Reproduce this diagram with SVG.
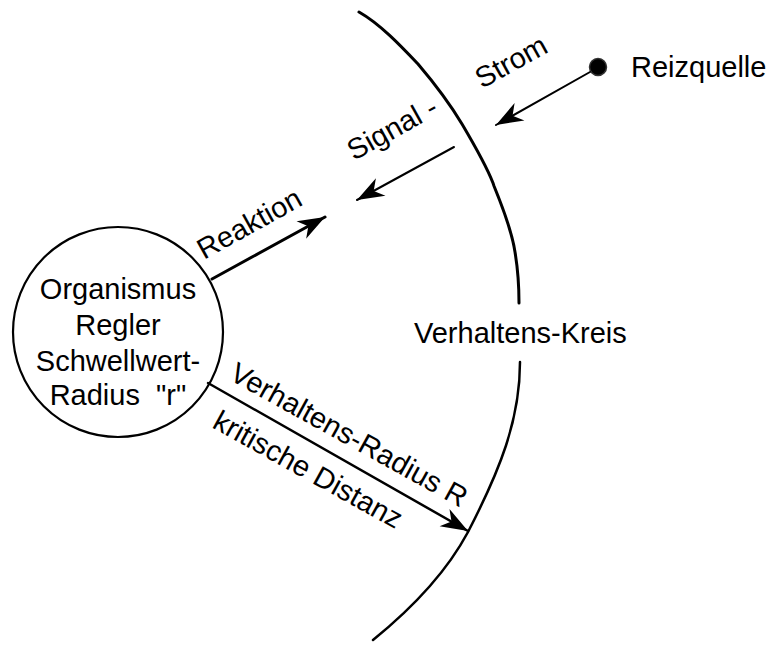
<svg xmlns="http://www.w3.org/2000/svg" width="769" height="653" viewBox="0 0 769 653">
  <style>
    .lbl { font-family: "Liberation Sans", Arial, sans-serif; font-size: 29px; fill: #000; }
    .mid { text-anchor: middle; }
    .edge { fill: none; stroke: #000; stroke-linecap: round; }
  </style>
  <defs>
    <marker id="head" markerUnits="userSpaceOnUse" markerWidth="32" markerHeight="26" viewBox="-30 -12 32 24" refX="0" refY="0" orient="auto">
      <path d="M0,0 L-27,-10 L-19,0 L-27,10 Z" fill="#000"/>
    </marker>
  </defs>

  <rect width="769" height="653" fill="#fff"/>

  <!-- boundary of the behaviour circle, broken where its label sits -->
  <g id="verhaltens-kreis">
    <path class="edge" stroke-width="3" d="M359,12 C380,24 400,45 418,64 C435,84 450,104 462,124 C475,146 486,165 493,183 L494,186 C503,208 512,232 515,252 C518,270 519,288 519,303"/>
    <path class="edge" stroke-width="2.5" d="M520,362 C520,420 500,470 468,532 C445,575 410,610 373,640"/>
    <text class="lbl" x="414" y="343">Verhaltens-Kreis</text>
  </g>

  <!-- organism node -->
  <g id="organismus">
    <circle cx="118" cy="332" r="105" fill="#fff" stroke="#000" stroke-width="2.2"/>
    <text class="lbl mid" x="118" y="299">Organismus</text>
    <text class="lbl mid" x="118" y="335">Regler</text>
    <text class="lbl mid" x="118" y="371">Schwellwert-</text>
    <text class="lbl mid" x="118" y="405" xml:space="preserve">Radius  "r"</text>
  </g>

  <!-- stimulus source -->
  <g id="reizquelle">
    <circle cx="598" cy="67" r="8.5" fill="#000" stroke="#333" stroke-width="1.5"/>
    <text class="lbl" x="631" y="77">Reizquelle</text>
  </g>

  <!-- connectors -->
  <g id="connectors">
    <line class="edge" stroke-width="2" x1="590" y1="72" x2="496" y2="125" marker-end="url(#head)"/>
    <line class="edge" stroke-width="2" x1="454" y1="147" x2="357" y2="200" marker-end="url(#head)"/>
    <line class="edge" stroke-width="3" x1="212" y1="279" x2="325" y2="217" marker-end="url(#head)"/>
    <line class="edge" stroke-width="2.5" x1="208" y1="383" x2="468" y2="531" marker-end="url(#head)"/>

    <text class="lbl" transform="translate(482,89) rotate(-29)">Strom</text>
    <text class="lbl" transform="translate(354,161) rotate(-29)">Signal -</text>
    <text class="lbl" transform="translate(204,260) rotate(-29)">Reaktion</text>
    <text class="lbl" transform="translate(228,379) rotate(29)">Verhaltens-Radius R</text>
    <text class="lbl" transform="translate(211,427) rotate(29)">kritische Distanz</text>
  </g>
</svg>
